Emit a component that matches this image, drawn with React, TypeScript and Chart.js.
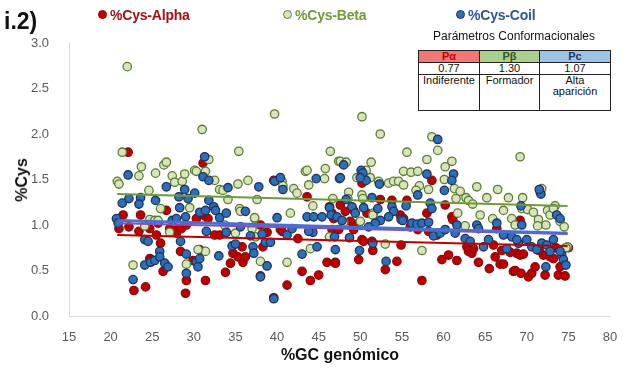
import React, { useEffect, useRef } from "react";
import { Chart, registerables } from "chart.js";
Chart.register(...registerables);

// ---- data ----
const alphaGC = [22.1,22.8,24.2,21.5,21.0,22.2,23.4,23.6,24.7,25.7,25.5,26.7,27.1,27.9,28.0,28.4,28.5,29.1,24.7,24.9,26.3,29.1,29.0,29.9,31.4,26.0,30.3,30.7,31.1,31.3,31.7,32.5,33.1,33.8,34.4,34.7,35.3,35.9,36.2,35.8,38.0,38.3,38.0,38.8,39.6,40.4,41.2,40.6,39.6,42.5,43.6,43.0,44.0,45.0,46.0,47.0,46.3,46.8,50.2,58.6,52.4,55.6,53.8,47.6,48.2,49.2,50.8,46.6,54.8,55.2,56.0,56.9,58.0,60.2,61.0,61.1,58.2,59.2,46.6,47.4,48.8,49.2,49.8,50.2,50.4,51.4,51.5,54.9,47.0,49.8,53.0,54.4,57.4,60.6,59.8,61.6,63.0,63.4,63.6,64.2,65.5,66.2,66.8,67.2,68.4,68.8,69.2,69.6,70.2,70.6,71.0,72.0,72.8,73.2,73.8,74.6,74.0,72.2,69.2,66.4,62.8,66.0,67.0,68.0,71.5,73.5,75.0,68.6,69.3];
const alphaCys = [1.80,0.28,0.32,1.11,0.96,0.98,0.93,1.11,0.96,1.02,0.89,1.16,0.96,0.91,0.95,0.71,0.96,1.00,0.63,0.62,0.49,0.39,0.25,0.61,0.39,0.80,1.07,0.73,1.68,1.10,1.07,0.89,0.89,0.48,0.58,0.69,0.65,0.59,0.65,0.76,0.44,0.76,1.00,0.92,1.49,0.95,0.34,0.93,0.20,0.85,1.31,0.49,0.39,0.45,0.59,0.59,1.20,1.07,1.46,1.49,1.28,1.27,1.27,1.22,1.15,1.16,1.13,1.13,1.11,1.07,0.98,0.95,1.13,1.22,1.09,1.06,0.93,0.89,0.95,0.95,1.04,0.95,1.02,0.84,0.82,0.82,0.72,0.78,0.58,0.62,0.51,0.60,0.39,0.67,0.62,0.61,0.71,0.69,0.74,0.59,0.52,0.65,0.57,0.57,0.49,0.69,0.67,0.68,0.43,0.47,0.54,0.67,0.65,0.63,0.45,0.44,0.54,0.45,1.05,0.96,0.76,0.78,0.72,0.70,0.72,0.75,0.75,0.50,0.47];

const betaGC = [22.0,21.4,20.8,21.0,23.7,23.4,24.6,25.4,26.4,26.7,27.4,27.7,28.6,28.9,31.0,30.1,30.3,31.4,31.8,29.5,26.0,27.1,22.7,29.1,31.4,32.5,33.1,33.5,34.1,35.4,35.3,36.5,35.5,35.6,37.3,38.0,39.7,40.6,40.7,42.0,42.4,41.2,41.6,43.4,43.6,43.8,45.8,45.7,46.4,47.4,44.3,44.0,46.3,24.1,24.7,25.3,25.7,37.6,37.3,33.7,35.0,37.0,37.4,30.5,50.2,52.4,58.6,59.3,55.6,58.0,61.0,60.2,69.2,47.6,48.3,51.3,50.7,50.2,49.6,50.3,51.2,55.2,56.1,56.9,52.2,53.4,54.0,54.6,55.2,57.1,56.7,58.2,60.1,61.3,62.0,61.5,62.7,63.0,63.5,64.0,65.2,66.5,67.8,69.5,71.8,71.6,48.6,46.7,48.5,50.2,50.3,51.6,51.5,48.0,50.0,53.0,57.4,61.7,62.6,64.4,65.9,67.2,68.2,69.4,68.6,70.1,70.8,71.4,72.5,72.8,73.4,73.2,74.0,74.5,74.9,74.7,72.3,71.3];
const betaCys = [2.74,1.80,1.48,1.45,1.64,1.54,1.38,1.57,1.66,1.69,1.54,1.47,1.48,1.56,2.05,1.60,1.59,1.59,1.72,1.19,1.18,0.92,0.56,0.57,0.71,1.49,1.39,1.38,1.28,1.81,1.45,1.49,1.18,1.15,1.07,0.60,2.22,1.48,1.43,1.40,1.35,0.59,1.13,1.59,1.60,1.44,1.62,1.51,1.81,1.70,1.21,0.74,0.87,0.99,1.06,1.05,1.05,1.28,1.08,1.00,0.91,0.96,0.87,0.73,2.19,2.00,1.97,1.82,1.80,1.72,1.70,1.64,1.75,1.70,1.69,1.69,1.60,1.55,1.52,1.52,1.52,1.59,1.58,1.59,1.48,1.46,1.48,1.48,1.44,1.43,1.38,1.39,1.50,1.40,1.37,1.29,1.30,1.27,1.23,1.42,1.30,1.39,1.30,1.30,1.40,1.36,1.36,1.29,1.29,1.33,1.29,1.13,1.11,1.03,1.04,0.79,0.72,1.13,0.99,1.11,1.07,1.16,1.07,1.18,1.00,1.17,1.14,1.06,1.16,1.11,1.21,1.18,1.04,0.98,0.76,0.75,1.00,0.99];

const coilGC = [22.1,21.4,22.2,23.6,23.4,20.7,20.9,22.7,24.1,24.8,25.3,25.9,25.9,26.5,26.9,24.1,24.5,25.4,26.7,28.2,28.3,28.9,29.3,30.1,31.3,31.1,31.8,27.4,27.9,29.0,28.4,29.1,29.1,30.3,30.5,30.7,30.7,31.4,31.5,31.8,32.4,32.6,33.1,33.9,34.1,33.9,33.0,34.6,35.0,35.6,36.2,36.8,37.1,37.2,37.8,38.2,38.6,39.2,38.0,38.8,39.6,39.7,40.4,40.7,40.0,41.2,41.8,43.0,43.6,44.4,44.7,44.8,45.4,46.3,46.5,47.5,44.3,43.8,59.3,48.0,47.6,50.1,50.3,50.7,50.0,52.3,58.0,61.2,61.0,60.1,56.9,51.4,48.3,49.0,71.7,71.5,55.5,53.8,52.1,50.4,49.4,58.4,58.6,54.0,54.9,55.1,56.2,56.8,57.4,58.2,53.4,52.4,51.8,51.0,47.2,47.8,46.9,48.7,47.0,49.9,53.1,51.5,58.8,59.6,60.2,61.6,61.4,62.6,63.2,64.0,64.2,64.8,65.4,66.4,67.2,67.6,68.2,69.0,69.4,68.8,70.0,70.6,71.2,71.8,72.4,73.2,73.6,74.0,74.2,74.4,74.7,74.0,72.3,72.8,69.3];
const coilCys = [1.55,1.24,1.29,1.30,1.23,1.07,1.02,0.40,0.56,0.59,0.61,0.71,0.65,0.58,0.54,0.84,0.82,1.27,1.42,1.31,1.19,1.39,1.29,1.35,1.75,1.53,1.49,1.05,1.07,1.09,0.82,0.68,0.47,0.59,0.54,0.63,1.14,1.16,0.93,1.27,1.20,1.16,1.08,1.13,1.41,0.92,0.66,0.77,0.79,0.98,1.15,0.88,0.76,0.69,1.42,0.90,0.81,0.81,0.43,0.55,0.19,1.48,1.52,1.39,1.08,0.89,0.96,0.68,1.09,1.09,1.51,0.76,1.09,1.19,1.11,1.51,0.92,0.93,1.94,1.66,1.52,1.60,1.57,1.49,1.52,1.45,1.56,1.56,1.49,1.38,1.33,1.30,1.28,1.20,1.34,1.39,1.21,1.20,1.18,1.19,1.13,1.24,1.18,1.15,1.06,1.05,1.02,1.01,1.02,1.03,1.09,1.05,1.02,0.98,1.09,1.05,0.87,0.86,0.73,0.72,0.60,0.80,0.88,0.91,0.95,1.00,0.91,0.85,0.82,1.00,0.96,0.76,0.84,1.02,0.89,0.74,0.87,0.80,1.00,0.84,0.84,0.76,0.73,0.80,0.78,0.84,1.11,1.07,0.67,0.62,0.56,0.71,0.54,0.71,1.21];

// trend lines (end points)
const trendGC = [20.8, 74.9];
const alphaTrend = [0.89, 0.77];
const betaTrend = [1.34, 1.21];
const coilTrend = [1.05, 0.91];
const allTrend = [1.02, 0.90];

const xTicks = [15, 80, 5];
const yTicks = [0, 3, 0.5];

const paramHeaders = ["P\u03b1", "P\u03b2", "Pc"];
const paramValues = ["0.77", "1.30", "1.07"];
const paramLabels = ["Indiferente", "Formador", "Alta aparici\u00f3n"];

const FONT = "'Liberation Sans', Arial, sans-serif";

function pts(xs: number[], ys: number[]) {
  return xs.map((x, i) => ({ x, y: ys[i] }));
}

export default function App() {
  const ref = useRef<HTMLCanvasElement | null>(null);
  useEffect(() => {
    document.body.style.margin = "0";
    const scatter = (data: any, bg: string, border: string, order: number) => ({
      type: "scatter" as const,
      data,
      backgroundColor: bg,
      borderColor: border,
      pointRadius: 4.2,
      pointBorderWidth: 1.3,
      order,
    });
    const trend = (ys: number[], color: string, width: number, order: number) => ({
      type: "line" as const,
      data: pts(trendGC, ys),
      borderColor: color,
      borderWidth: width,
      pointRadius: 0,
      fill: false,
      order,
    });
    const chart = new Chart(ref.current!, {
      type: "scatter",
      data: {
        datasets: [
          scatter(pts(alphaGC, alphaCys), "#c00000", "#8a0a0a", 5),
          scatter(pts(betaGC, betaCys), "#d7e4bd", "#5e7d2e", 4),
          scatter(pts(coilGC, coilCys), "#2e6fb8", "#1c3461", 3),
          trend(alphaTrend, "#c00000", 2, 0),
          trend(betaTrend, "#6e9a3a", 2, 0),
          trend(allTrend, "#8a4fb0", 2, 1),
          trend(coilTrend, "#4a6fd0", 3, 0),
        ] as any,
      },
      options: {
        animation: false,
        responsive: false,
        maintainAspectRatio: false,
        layout: { padding: { top: 43, right: 17, left: 0, bottom: 0 } },
        plugins: { legend: { display: false }, tooltip: { enabled: false } },
        scales: {
          x: {
            type: "linear",
            min: xTicks[0],
            max: xTicks[1],
            ticks: { stepSize: xTicks[2], color: "#595959", font: { family: FONT, size: 13 }, padding: 6 },
            grid: { display: false },
            border: { display: true, color: "#d9d9d9", width: 1 },
            afterFit: (s: any) => { s.height = 57; },
          },
          y: {
            type: "linear",
            min: yTicks[0],
            max: yTicks[1],
            ticks: {
              stepSize: yTicks[2],
              color: "#595959",
              font: { family: FONT, size: 13 },
              padding: 12,
              callback: (v: any) => Number(v).toFixed(1),
            },
            grid: { display: false },
            border: { display: true, color: "#d9d9d9", width: 1 },
            afterFit: (s: any) => { s.width = 69; },
          },
        },
      } as any,
    });
    return () => chart.destroy();
  }, []);

  const legendItem = (left: number, label: string, fill: string, border: string, color: string) => (
    <div style={{ position: "absolute", left, top: 6, height: 17, display: "flex", alignItems: "center", fontFamily: FONT, fontWeight: "bold", fontSize: 14, color, letterSpacing: -0.2, whiteSpace: "nowrap" }}>
      <span style={{ display: "inline-block", width: 7, height: 7, borderRadius: "50%", background: fill, border: `1px solid ${border}`, marginRight: 3 }} />
      {label}
    </div>
  );

  const cell: React.CSSProperties = { border: "1px solid #222", padding: 0, textAlign: "center", lineHeight: "11px" };
  const headColors = [["#f27878", "#c00000"], ["#a9d18e", "#38571a"], ["#9dc3e6", "#1f3864"]];

  return (
    <div style={{ position: "relative", width: 627, height: 373, background: "#fff", overflow: "hidden" }}>
      <canvas ref={ref} width={627} height={373} style={{ position: "absolute", left: 0, top: 0 }} />
      <div style={{ position: "absolute", left: 4, top: 8, fontFamily: FONT, fontWeight: "bold", fontSize: 23, color: "#111" }}>i.2)</div>
      {legendItem(98, "%Cys-Alpha", "#c00000", "#8a0a0a", "#a50f15")}
      {legendItem(283, "%Cys-Beta", "#d7e4bd", "#5e7d2e", "#6e9a3a")}
      {legendItem(456, "%Cys-Coil", "#2e6fb8", "#1c3461", "#2f5597")}
      <div style={{ position: "absolute", left: 22, top: 180, transform: "translate(-50%,-50%) rotate(-90deg)", fontFamily: FONT, fontWeight: "bold", fontSize: 16, color: "#111", whiteSpace: "nowrap" }}>%Cys</div>
      <div style={{ position: "absolute", left: 340, top: 355, transform: "translate(-50%,-50%)", fontFamily: FONT, fontWeight: "bold", fontSize: 16, color: "#111", whiteSpace: "nowrap" }}>%GC genómico</div>
      <div style={{ position: "absolute", left: 418, top: 29, width: 192, textAlign: "center", fontFamily: FONT, fontSize: 12, color: "#111", whiteSpace: "nowrap" }}>Parámetros Conformacionales</div>
      <table style={{ position: "absolute", left: 418, top: 50, width: 192, borderCollapse: "collapse", fontFamily: FONT, fontSize: 11, color: "#111", background: "#fff", tableLayout: "fixed" }}>
        <colgroup>
          <col style={{ width: 61 }} />
          <col style={{ width: 60 }} />
          <col style={{ width: 71 }} />
        </colgroup>
        <tbody>
          <tr style={{ height: 11 }}>
            {paramHeaders.map((h, i) => (
              <td key={h} style={{ ...cell, background: headColors[i][0], color: headColors[i][1], fontWeight: "bold" }}>{h}</td>
            ))}
          </tr>
          <tr style={{ height: 11 }}>
            {paramValues.map((v) => (
              <td key={v} style={cell}>{v}</td>
            ))}
          </tr>
          <tr style={{ height: 36 }}>
            {paramLabels.map((l, i) => (
              <td key={l} style={{ ...cell, verticalAlign: "top", whiteSpace: i === 2 ? "normal" : "nowrap", padding: i === 2 ? "0 8px" : 0 }}>{l}</td>
            ))}
          </tr>
        </tbody>
      </table>
    </div>
  );
}
